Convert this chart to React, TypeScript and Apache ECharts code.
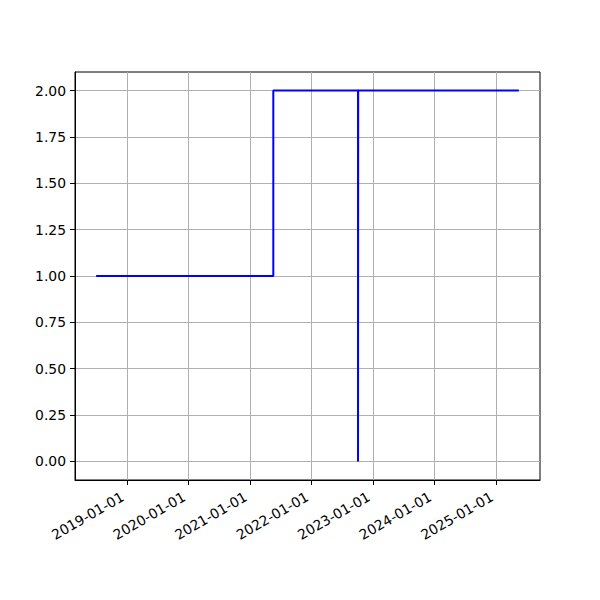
import React, { useEffect, useRef } from "react";
import * as echarts from "echarts";

const dates = ["2018-07-02", "2021-05-19", "2022-10-04", "2022-10-05", "2025-05-16"];
const values = [1, 2, 0, 2, 2];
const xTickDates = ["2019-01-01", "2020-01-01", "2021-01-01", "2022-01-01", "2023-01-01", "2024-01-01", "2025-01-01"];
const yTicks = [0, 0.25, 0.5, 0.75, 1.0, 1.25, 1.5, 1.75, 2.0];

const toTs = (s: string) => {
  const [y, m, d] = s.split("-").map(Number);
  return Date.UTC(y, m - 1, d);
};

const pad = (n: number) => (n < 10 ? "0" + n : "" + n);
const fmtDate = (v: number) => {
  const d = new Date(v);
  return `${d.getUTCFullYear()}-${pad(d.getUTCMonth() + 1)}-${pad(d.getUTCDate())}`;
};

export default function App() {
  const ref = useRef<HTMLDivElement>(null);
  useEffect(() => {
    if (!ref.current) return;
    const chart = echarts.init(ref.current, null, { renderer: "svg" });
    const ts = dates.map(toTs);
    const tMin = Math.min(...ts);
    const tMax = Math.max(...ts);
    const span = tMax - tMin;
    const font = "DejaVu Sans";
    chart.setOption({
      animation: false,
      backgroundColor: "#ffffff",
      grid: {
        left: 75,
        right: 60,
        top: 72,
        bottom: 120,
        show: true,
        borderColor: "#000000",
        borderWidth: 1,
        backgroundColor: "transparent",
      },
      xAxis: {
        type: "value",
        min: tMin - span * 0.05,
        max: tMax + span * 0.05,
        axisLine: { show: true, onZero: false, lineStyle: { color: "#000", width: 1 } },
        axisTick: {
          show: true,
          length: 5,
          lineStyle: { color: "#000", width: 1 },
          customValues: xTickDates.map(toTs),
        },
        axisLabel: {
          customValues: xTickDates.map(toTs),
          formatter: (v: number) => fmtDate(v),
          rotate: 30,
          fontFamily: font,
          fontSize: 13.9,
          color: "#000",
          margin: 13,
          padding: [0, 5, 0, 0],
        },
        splitLine: { show: true, lineStyle: { color: "#b0b0b0", width: 1 } },
      },
      yAxis: {
        type: "value",
        min: -0.1,
        max: 2.1,
        axisLine: { show: true, onZero: false, lineStyle: { color: "#000", width: 1 } },
        axisTick: {
          show: true,
          length: 5,
          lineStyle: { color: "#000", width: 1 },
          customValues: yTicks,
        },
        axisLabel: {
          customValues: yTicks,
          formatter: (v: number) => v.toFixed(2),
          fontFamily: font,
          fontSize: 13.9,
          color: "#000",
          margin: 9,
        },
        splitLine: { show: true, lineStyle: { color: "#b0b0b0", width: 1 } },
      },
      series: [
        {
          type: "line",
          step: "end",
          data: ts.map((t, i) => [t, values[i]]),
          showSymbol: false,
          lineStyle: { color: "#0000ff", width: 2 },
          itemStyle: { color: "#0000ff" },
        },
      ],
    });
    return () => chart.dispose();
  }, []);
  return (
    <div
      ref={ref}
      style={{ position: "fixed", left: 0, top: 0, width: 600, height: 600, background: "#fff" }}
    />
  );
}
